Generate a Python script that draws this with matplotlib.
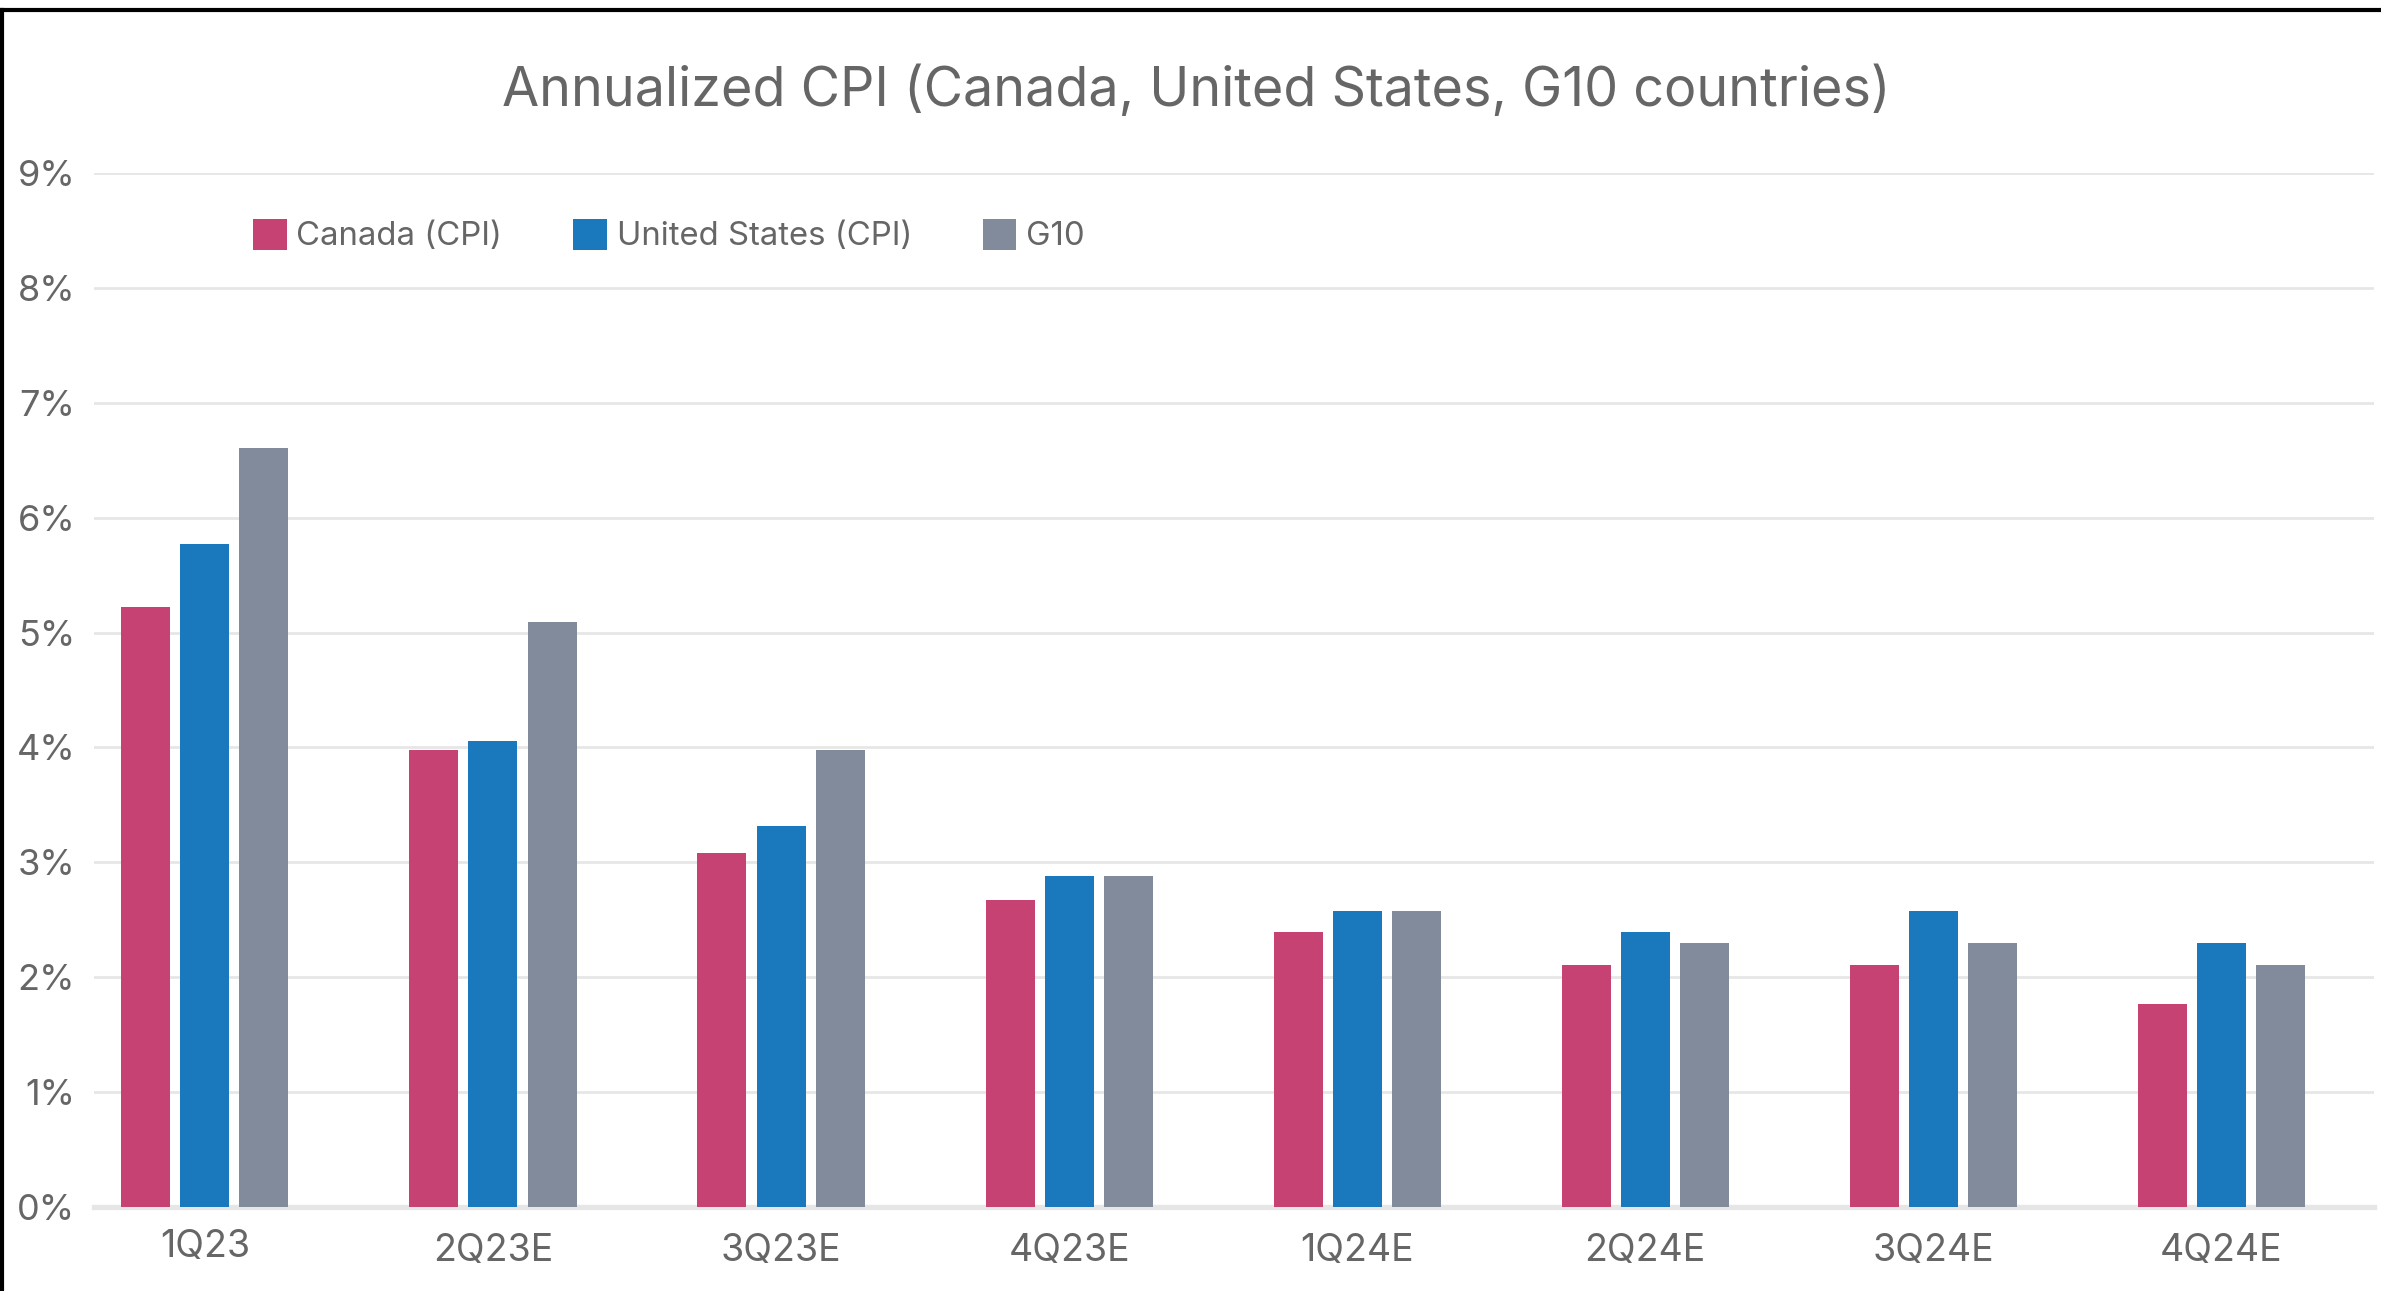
import numpy as np
import matplotlib
matplotlib.use("Agg")
import matplotlib.pyplot as plt
from matplotlib.patches import Patch
from matplotlib.lines import Line2D

plt.rcParams['font.family'] = ['Inter', 'DejaVu Sans']

quarters = ['1Q23', '2Q23E', '3Q23E', '4Q23E', '1Q24E', '2Q24E', '3Q24E', '4Q24E']
canada = [5.22, 3.98, 3.08, 2.67, 2.39, 2.11, 2.11, 1.77]
usa = [5.77, 4.06, 3.32, 2.88, 2.58, 2.39, 2.58, 2.30]
g10 = [6.61, 5.09, 3.98, 2.88, 2.58, 2.30, 2.30, 2.11]
series_names = ['Canada (CPI)', 'United States (CPI)', 'G10']
colors = ['#c64272', '#1a79bd', '#828b9b']
text_col = '#666666'

W, H = 2381, 1291
fig = plt.figure(figsize=(W / 100, H / 100), dpi=100)
ax = fig.add_axes([94 / W, 1 - 1207 / H, (2374 - 94) / W, (1207 - 173) / H])

x = np.arange(len(quarters))
width = 0.170
step = 0.205
for k, (vals, c) in enumerate(zip([canada, usa, g10], colors)):
    ax.bar(x + (k - 1) * step, vals, width, color=c, zorder=3, label=series_names[k])

ax.set_xlim(-0.385, 7.53)
ax.set_ylim(0, 9)
ax.set_yticks(range(10))
ax.set_yticklabels([f"{v}%" for v in range(10)])
ax.grid(axis='y', color='#e6e6e6', lw=1.95, zorder=0)
ax.axhline(0, color='#e6e6e6', lw=3.8, zorder=1, clip_on=False)
for s in ax.spines.values():
    s.set_visible(False)

ax.set_xticks(x)
ax.set_xticklabels(quarters)
ax.tick_params(axis='both', length=0, labelcolor=text_col)
ax.tick_params(axis='y', pad=13.5, labelsize=26)
ax.tick_params(axis='x', pad=18.5, labelsize=27)
# first label sits a little higher in the original
ax.get_xticklabels()[0].set_y(0.004)

fig.text(0.5 + 6 / W, 1 - 91 / H, 'Annualized CPI (Canada, United States, G10 countries)',
         ha='center', va='center', fontsize=38.8, color=text_col)

handles = [Patch(facecolor=c, edgecolor='none') for c in colors]
leg = fig.legend(handles, series_names, loc='center left',
                 bbox_to_anchor=(253 / W, 1 - 235.5 / H), ncol=3, frameon=False,
                 fontsize=23.7, handlelength=1.02, handleheight=1.07,
                 handletextpad=0.3, columnspacing=2.15, borderpad=0, borderaxespad=0)
for t in leg.get_texts():
    t.set_color(text_col)

# black frame on the top and left edges
fig.add_artist(Line2D([0, 1], [1 - 10 / H, 1 - 10 / H], color='black', lw=3, transform=fig.transFigure))
fig.add_artist(Line2D([2 / W, 2 / W], [0, 1 - 10 / H], color='black', lw=3, transform=fig.transFigure))

fig.savefig('out.png', dpi=100, facecolor='white')
